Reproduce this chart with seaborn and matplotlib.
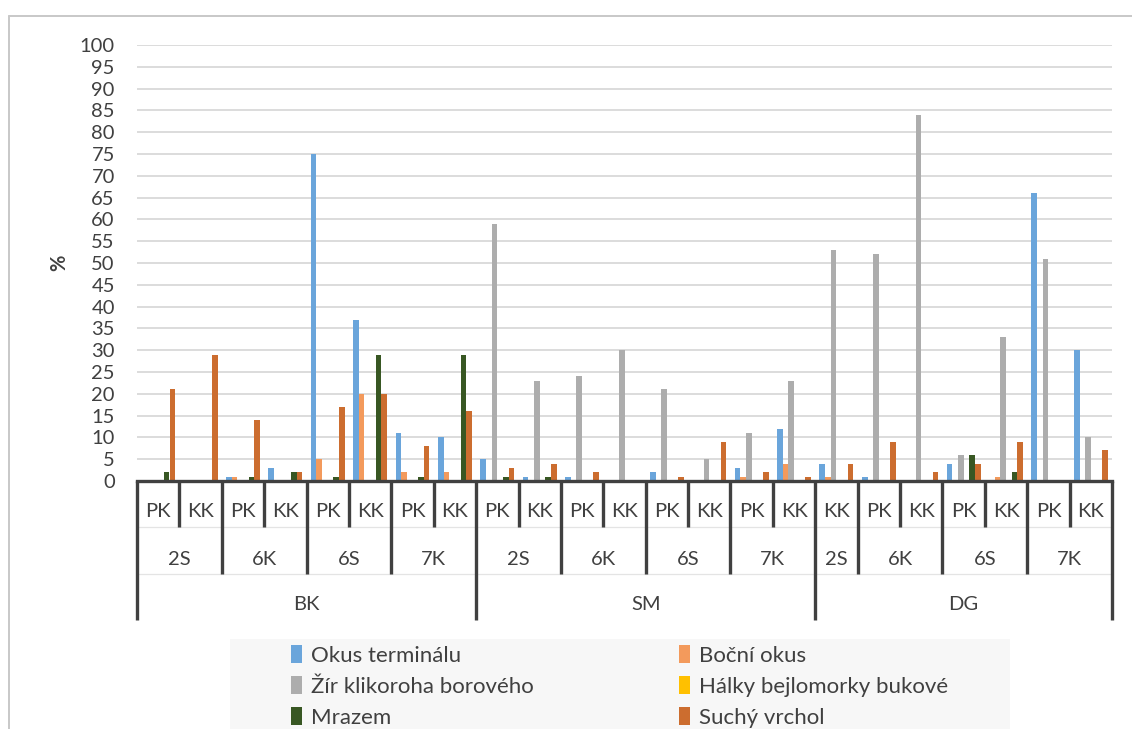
import itertools

import matplotlib
matplotlib.use("Agg")
import matplotlib.pyplot as plt
from matplotlib.lines import Line2D
from matplotlib.patches import Rectangle
import pandas as pd
import seaborn as sns

# Category levels of the x axis (one entry per bar cluster)
lokalita = ["BK", "BK", "BK", "BK", "BK", "BK", "BK", "BK",
            "SM", "SM", "SM", "SM", "SM", "SM", "SM", "SM",
            "DG", "DG", "DG", "DG", "DG", "DG", "DG"]
varianta = ["2S", "2S", "6K", "6K", "6S", "6S", "7K", "7K",
            "2S", "2S", "6K", "6K", "6S", "6S", "7K", "7K",
            "2S", "6K", "6K", "6S", "6S", "7K", "7K"]
typ = ["PK", "KK", "PK", "KK", "PK", "KK", "PK", "KK",
       "PK", "KK", "PK", "KK", "PK", "KK", "PK", "KK",
       "KK", "PK", "KK", "PK", "KK", "PK", "KK"]

# Share of damaged trees (%) per damage type
okus_terminalu = [0, 0, 1, 3, 75, 37, 11, 10,
                  5, 1, 1, 0, 2, 0, 3, 12,
                  4, 1, 0, 4, 0, 66, 30]
bocni_okus = [0, 0, 1, 0, 5, 20, 2, 2,
              0, 0, 0, 0, 0, 0, 1, 4,
              1, 0, 0, 0, 1, 0, 0]
zir_klikoroha = [0, 0, 0, 0, 0, 0, 0, 0,
                 59, 23, 24, 30, 21, 5, 11, 23,
                 53, 52, 84, 6, 33, 51, 10]
halky_bejlomorky = [0, 0, 0, 0, 0, 0, 0, 0,
                    0, 0, 0, 0, 0, 0, 0, 0,
                    0, 0, 0, 0, 0, 0, 0]
mrazem = [2, 0, 1, 2, 1, 29, 1, 29,
          1, 1, 0, 0, 0, 0, 0, 0,
          0, 0, 0, 6, 2, 0, 0]
suchy_vrchol = [21, 29, 14, 2, 17, 20, 8, 16,
                3, 4, 2, 0, 1, 9, 2, 1,
                4, 9, 2, 4, 9, 0, 7]

serie = ["Okus terminálu", "Boční okus", "Žír klikoroha borového",
         "Hálky bejlomorky bukové", "Mrazem", "Suchý vrchol"]
hodnoty = [okus_terminalu, bocni_okus, zir_klikoroha,
           halky_bejlomorky, mrazem, suchy_vrchol]
barvy = ["#6AA5DB", "#F39A5C", "#ADADAD", "#FFC000", "#385723", "#CC6D2F"]

# Long table for seaborn
slots = [f"{a} {b} {c} #{i}" for i, (a, b, c) in enumerate(zip(lokalita, varianta, typ))]
rows = []
for name, vals in zip(serie, hodnoty):
    for s, v in zip(slots, vals):
        rows.append({"slot": s, "serie": name, "hodnota": v})
df = pd.DataFrame(rows)

sns.set_style("white")
plt.rcParams["font.family"] = ["Lato", "DejaVu Sans"]
text_color = "#404040"

W, H = 1132, 729
fig = plt.figure(figsize=(W / 100, H / 100), dpi=100)
ax = fig.add_axes([137 / W, 1 - 481 / H, 975 / W, 436 / H])

sns.barplot(data=df, x="slot", y="hodnota", hue="serie", order=slots,
            hue_order=serie, palette=barvy, width=0.8, saturation=1,
            errorbar=None, linewidth=0, ax=ax)

ax.set_xlim(-0.5, len(slots) - 0.5)
ax.set_ylim(0, 100)
ax.set_yticks(range(0, 101, 5))
ax.yaxis.grid(True, color="#d6d6d6", linewidth=1.2)
ax.set_axisbelow(True)
ax.tick_params(axis="y", length=0, pad=16, labelsize=14.5, labelcolor=text_color)
ax.set_xticks([])
ax.set_xlabel("")
ax.set_ylabel("")
for side in ["top", "right", "left"]:
    ax.spines[side].set_visible(False)
ax.spines["bottom"].set_color(text_color)
ax.spines["bottom"].set_linewidth(2.4)

ax.text(-0.080, 0.5, "%", transform=ax.transAxes, rotation=90,
        ha="center", va="center", fontsize=14.5, fontweight="bold",
        color=text_color)

# Multi-level category axis
tr = ax.get_xaxis_transform()
n = len(slots)
row_y = [-0.0704, -0.181, -0.284]
sep_y = [-0.1055, -0.2133, -0.3188]
sep_kw = dict(color=text_color, linewidth=2.4, transform=tr, clip_on=False,
              solid_capstyle="butt")

for y in sep_y[:2]:
    ax.add_line(Line2D([-0.5, n - 0.5], [y, y], color="#e4e4e4", linewidth=0.9,
                       transform=tr, clip_on=False))

keys = [
    list(zip(lokalita, varianta, typ, range(n))),
    list(zip(lokalita, varianta)),
    list(lokalita),
]
labels = [typ, varianta, lokalita]
for level in range(3):
    for key, grp in itertools.groupby(range(n), key=lambda i: keys[level][i]):
        idx = list(grp)
        a, b = idx[0], idx[-1]
        ax.text((a + b) / 2, row_y[level], labels[level][a], transform=tr,
                ha="center", va="center", fontsize=14.5, color=text_color)

# Separator lines: deeper where a higher level changes
for i in range(n + 1):
    depth = 0
    if i == 0 or i == n or lokalita[i] != lokalita[i - 1]:
        depth = 2
    elif varianta[i] != varianta[i - 1]:
        depth = 1
    ax.add_line(Line2D([i - 0.5, i - 0.5], [0, sep_y[depth]], **sep_kw))

# Legend
handles, labs = ax.get_legend_handles_labels()
ax.get_legend().remove()
order = [0, 2, 4, 1, 3, 5]
fig.patches.append(Rectangle((230 / W, 0), 780 / W, 90 / H, transform=fig.transFigure,
                             facecolor="#f7f7f7", edgecolor="none", zorder=0))
leg = fig.legend([handles[i] for i in order], [labs[i] for i in order],
                 loc="upper left", bbox_to_anchor=(291 / W, 1 - 645 / H),
                 ncol=2, frameon=False, fontsize=16, handlelength=0.5,
                 handleheight=0.85, handletextpad=0.42, labelspacing=0.47,
                 columnspacing=6.5, borderaxespad=0, borderpad=0)
for t in leg.get_texts():
    t.set_color(text_color)

# Chart-area border
fig.add_artist(Line2D([8.5 / W, 8.5 / W], [0, 1 - 15.5 / H], color="#c8c8c8",
                      linewidth=1.4, transform=fig.transFigure))
fig.add_artist(Line2D([8.5 / W, 1], [1 - 15.5 / H, 1 - 15.5 / H], color="#c8c8c8",
                      linewidth=1.4, transform=fig.transFigure))

fig.savefig("out.png", dpi=100)
